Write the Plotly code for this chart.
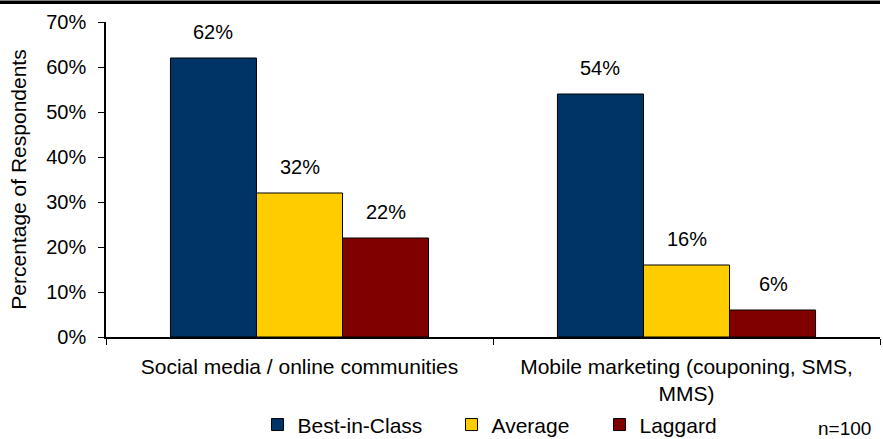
import plotly.graph_objects as go

categories = ["Social media / online communities", "Mobile marketing (couponing, SMS,<br>MMS)"]
series_names = ["Best-in-Class", "Average", "Laggard"]
best_in_class = [62, 54]
average = [32, 16]
laggard = [22, 6]
colors = ["#003366", "#FFCC00", "#800000"]
y_ticks = [0, 10, 20, 30, 40, 50, 60, 70]
y_tick_labels = [f"{v}%" for v in y_ticks]

FONT = "Liberation Sans, Arial, sans-serif"
legend_ids = ["legend", "legend2", "legend3"]
legend_x = [0.1957, 0.4464, 0.6376]

fig = go.Figure()
for name, vals, col, lid in zip(series_names, [best_in_class, average, laggard], colors, legend_ids):
    fig.add_trace(go.Bar(
        x=categories, y=vals, name=name, legend=lid,
        marker=dict(color=col, line=dict(color="black", width=1)),
    ))

# data labels
for i, vals in enumerate([best_in_class, average, laggard]):
    for j, v in enumerate(vals):
        fig.add_annotation(
            x=categories[j], y=v, text=f"{v}%", showarrow=False,
            xref="x", yref="y", xshift=(i - 1) * 86.5, yshift=26,
            font=dict(size=20, color="black", family=FONT),
        )

fig.add_annotation(
    x=0.991, xref="paper", y=-0.292, yref="paper", text="n=100", showarrow=False,
    xanchor="right", yanchor="middle", font=dict(size=19, color="black", family=FONT),
)

fig.add_shape(type="line", xref="paper", yref="paper", x0=-0.137, x1=1.0, y0=1.063, y1=1.063,
              line=dict(color="black", width=3.5))

legend_common = dict(orientation="h", xanchor="left", y=-0.279, yanchor="middle",
                     font=dict(size=21, family=FONT), itemwidth=30, bgcolor="rgba(0,0,0,0)")

fig.update_layout(
    width=883, height=439,
    margin=dict(l=106, r=3, t=22, b=102, autoexpand=False),
    paper_bgcolor="white", plot_bgcolor="white",
    barmode="group", bargap=0.333, bargroupgap=0,
    font=dict(family=FONT, size=20, color="black"),
    showlegend=True,
    legend=dict(x=legend_x[0], **legend_common),
    legend2=dict(x=legend_x[1], **legend_common),
    legend3=dict(x=legend_x[2], **legend_common),
    xaxis=dict(showline=True, linecolor="black", linewidth=1.5, ticks="outside",
               tickson="boundaries", ticklen=6, tickcolor="black", ticklabelstandoff=10,
               automargin=False, tickfont=dict(size=21, family=FONT)),
    yaxis=dict(range=[0, 70], tickvals=y_ticks, ticktext=y_tick_labels,
               showline=True, linecolor="black", linewidth=1.5, ticks="outside",
               ticklen=6, tickcolor="black", showgrid=False, zeroline=False,
               ticklabelstandoff=8, automargin=False,
               tickfont=dict(size=20, family=FONT),
               title=dict(text="Percentage of Respondents", font=dict(size=21, family=FONT), standoff=14)),
)

fig.write_html("out.html")
